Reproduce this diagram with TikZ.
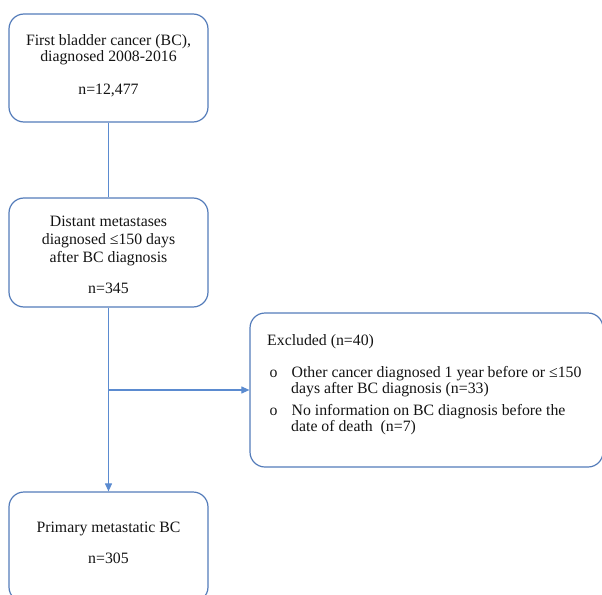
\documentclass[tikz,border=0pt]{standalone}
\usepackage{fontspec}
\setmainfont{Liberation Serif}
\usetikzlibrary{arrows.meta}
\definecolor{boxblue}{RGB}{84,124,186}
\definecolor{lineblue}{RGB}{91,139,208}
\definecolor{txt}{RGB}{20,20,20}
\tikzset{
  flowbox/.style={draw=boxblue, line width=1.2pt, rounded corners=15pt, fill=white,
    minimum width=199pt, text=txt, align=center, inner sep=0pt},
  conn/.style={draw=lineblue, line width=1.1pt},
  arr/.style={conn, -{Triangle[length=8pt,width=7pt]}}
}
\begin{document}
\begin{tikzpicture}[x=1pt,y=-1pt]
\useasboundingbox (0,0) rectangle (602,594);
\node[flowbox, minimum height=108pt, font=\fontsize{15.8}{16.5}\selectfont] (b1) at (108.5,68)
  {First bladder cancer (BC),\\ diagnosed 2008-2016\\[16pt] n=12,477\\[-9pt]};
\node[flowbox, minimum height=109pt, font=\fontsize{15.8}{18}\selectfont] (b2) at (108.5,252.5)
  {\rule{0pt}{15pt}Distant metastases\\ diagnosed ≤150 days\\ after BC diagnosis\\[13pt] n=345};
\node[flowbox, minimum height=110pt, font=\fontsize{15.8}{16.5}\selectfont] (b3) at (108.5,547)
  {Primary metastatic BC\\[14pt] n=305\\[-8pt]};
\node[flowbox, minimum width=353pt, minimum height=154pt] (ex) at (426.5,390) {};
\node[anchor=north west, align=left, text=txt, font=\fontsize{15.8}{15.7}\selectfont, inner sep=0pt] (extext) at (267,334.8)
 {Excluded (n=40)\\[16.3pt]
  \hspace*{2.5pt}o\hspace{14pt}Other cancer diagnosed 1 year before or ≤150\\
  \hspace*{24pt}days after BC diagnosis (n=33)\\[6.6pt]
  \hspace*{2.5pt}o\hspace{14pt}No information on BC diagnosis before the\\
  \hspace*{24pt}date of death~ (n=7)};
\coordinate (split) at (b2.south |- ex.west);
\draw[conn] (b1.south) -- (b2.north);
\draw[arr] (b2.south) -- (b3.north);
\draw[arr] (split) -- (ex.west);
\end{tikzpicture}
\end{document}
